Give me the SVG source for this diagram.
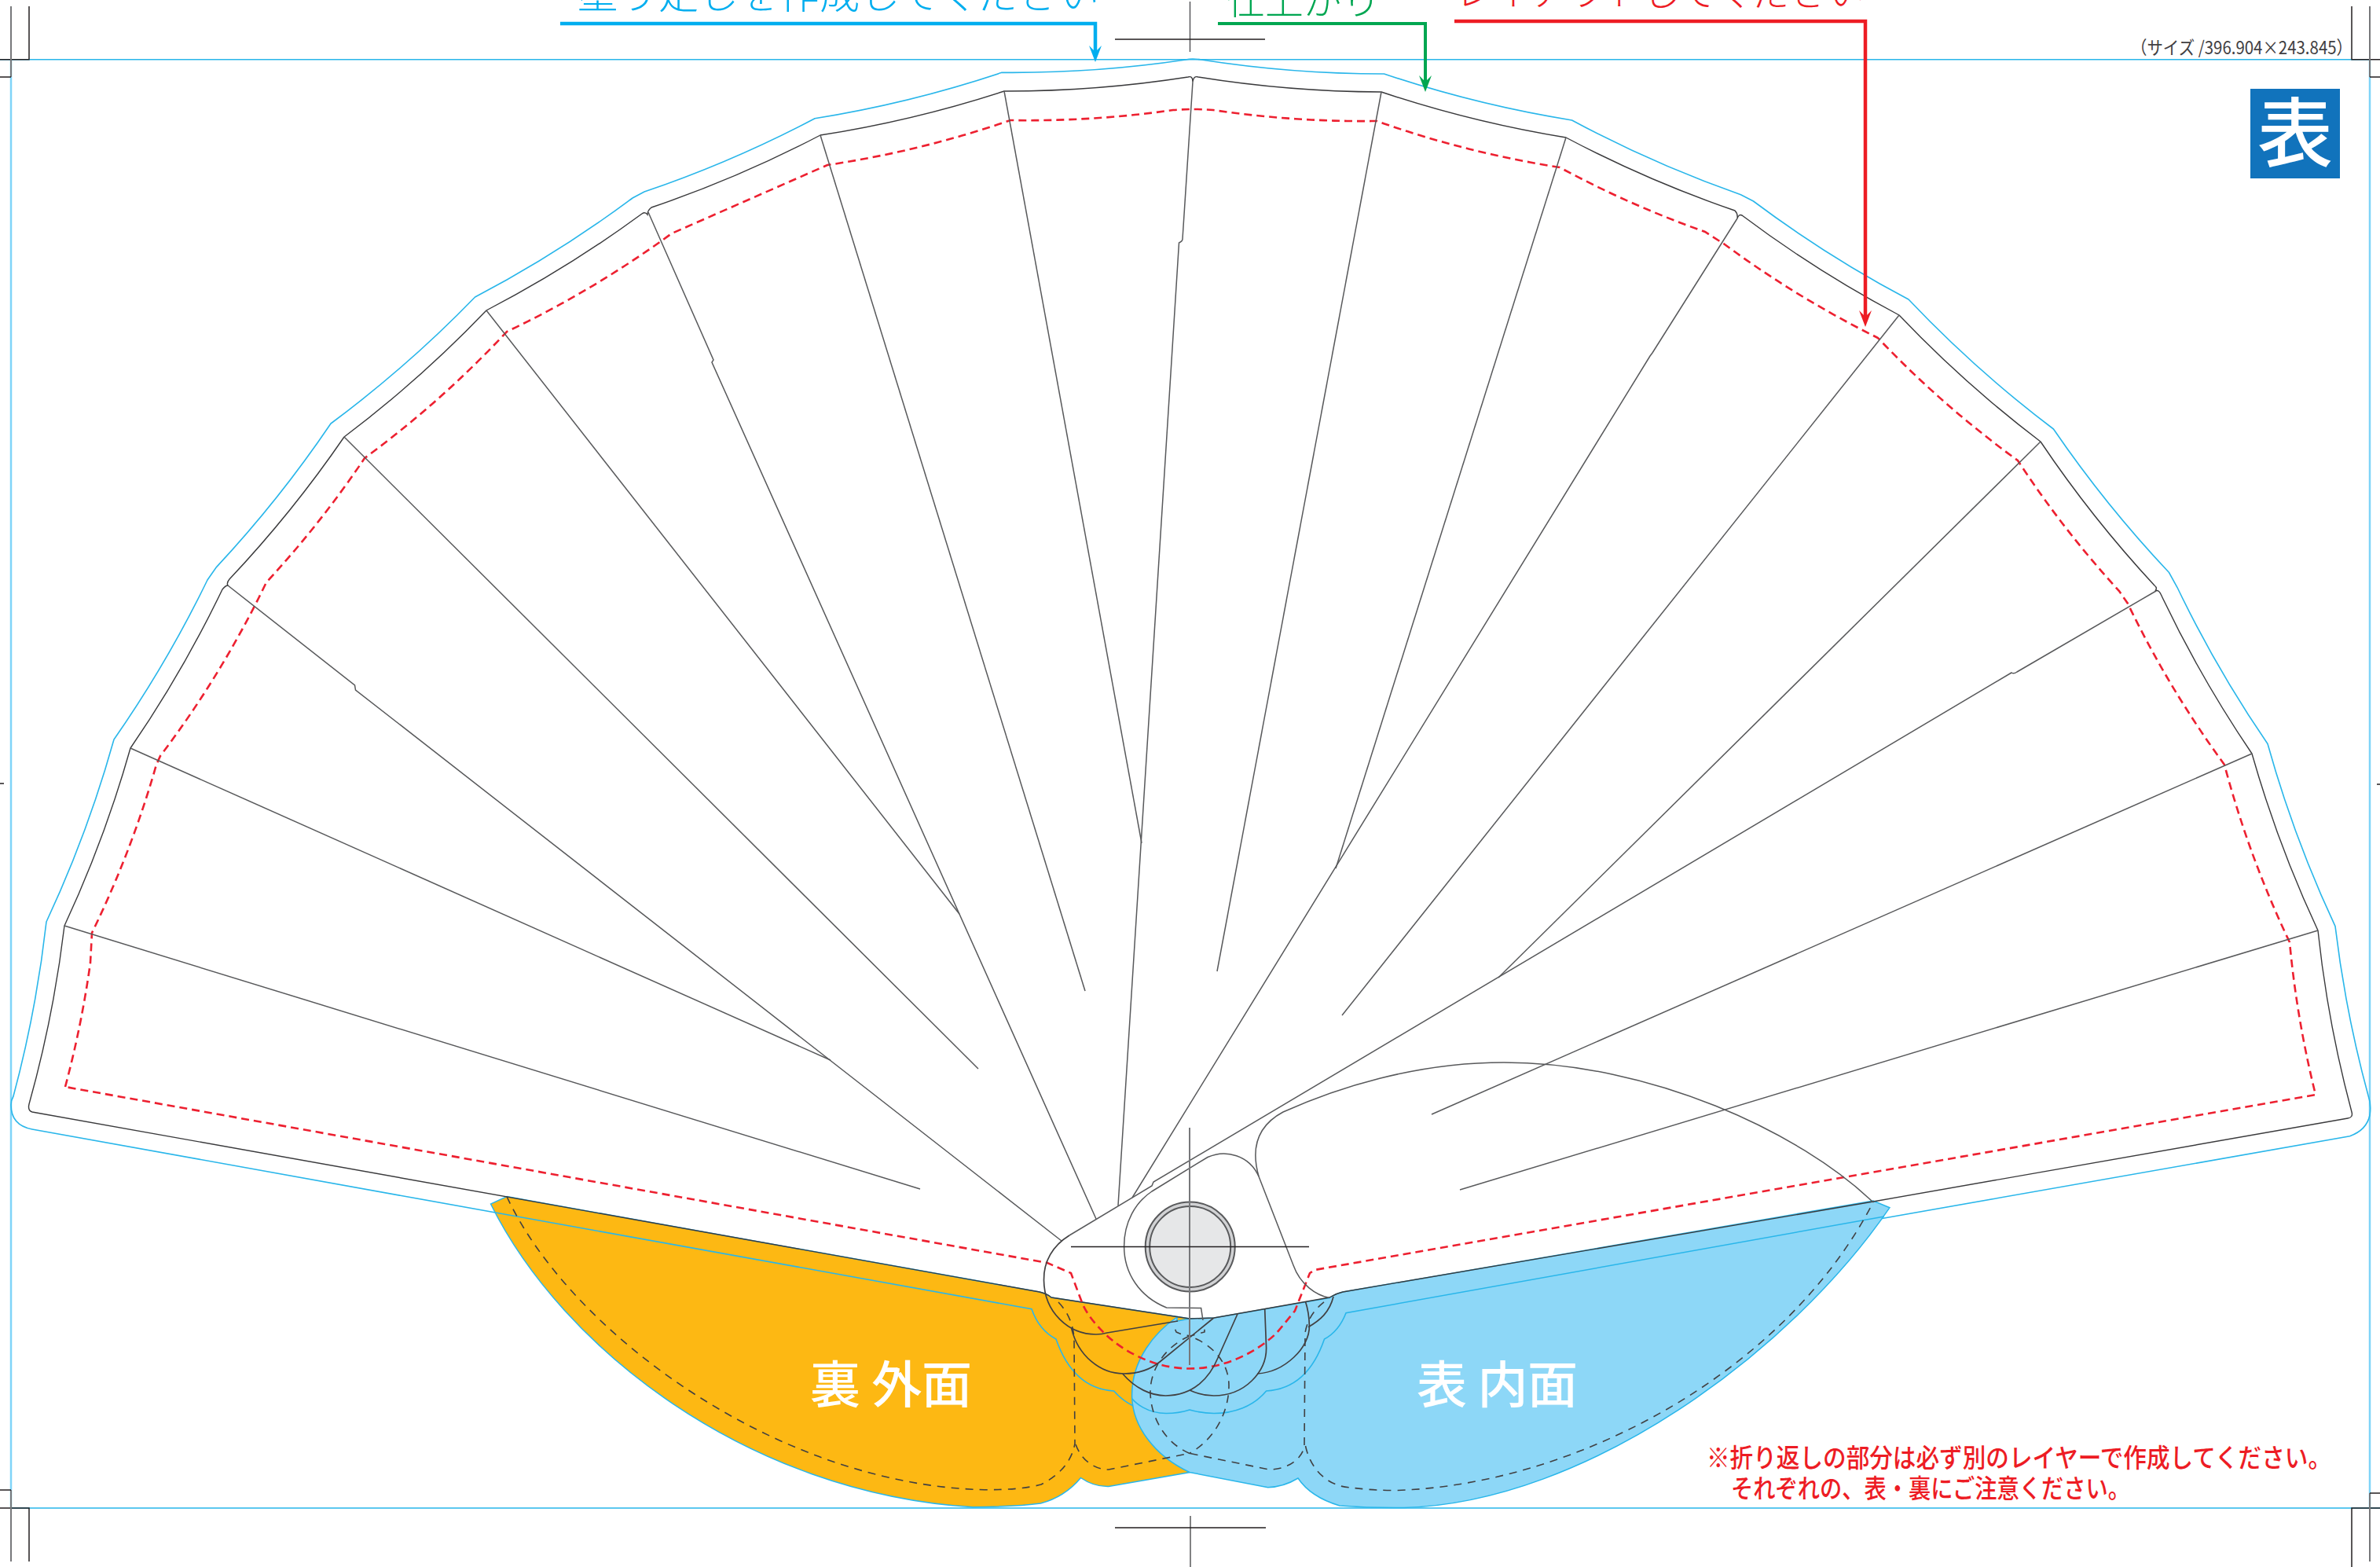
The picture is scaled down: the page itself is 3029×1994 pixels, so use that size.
<svg xmlns="http://www.w3.org/2000/svg" width="3029" height="1994" viewBox="0 0 3029 1994">
<style>
.ln{fill:none;stroke:#58595b;stroke-width:1.5}
.lb{fill:none;stroke:#414042;stroke-width:1.7}
.ol{fill:none;stroke:#3a3a3c;stroke-width:1.4}
.blk{fill:none;stroke:#231f20;stroke-width:1.5}
.gry{fill:none;stroke:#77787b;stroke-width:2}
.bl{fill:none;stroke:#29b6ea;stroke-width:1.6}
.bv{fill:none;stroke:#7fd4f8;stroke-width:2.5}
.rd{fill:none;stroke:#ed2030;stroke-width:2.6;stroke-dasharray:10 6}
.ds{fill:none;stroke:#414042;stroke-width:1.6;stroke-dasharray:10 8}
.t{font-family:"Noto Sans CJK JP","Noto Sans",sans-serif}
</style>
<rect width="3029" height="1994" fill="#fff"/>

<g id="orange-panel"><path d="M645 1522.6L624.5 1532C715 1715 950 1900 1238 1917.7Q1295 1917 1324.5 1913Q1355 1905 1375.5 1880.5Q1392 1892 1411 1891.5L1514 1873.5L1514 1678L1338 1651Q1332 1646 1323 1644Z" fill="#fdb813" stroke="#29b6ea" stroke-width="1.5"/></g>

<g id="guides">
<path class="bl" d="M0 75.7H3016M14 1919H3029"/>
<path class="bv" d="M14 76V1919M3016 76V1919"/>
</g>

<g id="bleed"><path class="bl" d="M17 1395A1500 1500 0 0 0 59 1173A1500 1500 0 0 0 145 941A1500 1500 0 0 0 264 738L275.500 721.600A1500 1500 0 0 0 421 539A1500 1500 0 0 0 604.600 378A1500 1500 0 0 0 805 252L820 244A1500 1500 0 0 0 1037 150.700A1500 1500 0 0 0 1275 92.300A1500 1500 0 0 0 1509 76Q1517 74 1529 76A1500 1500 0 0 0 1761.500 94A1500 1500 0 0 0 2000.600 153A1500 1500 0 0 0 2215.500 247.700L2231.500 256A1500 1500 0 0 0 2429 381A1500 1500 0 0 0 2613.500 546A1500 1500 0 0 0 2760.500 728.500L2771 747.500A1500 1500 0 0 0 2886 946.500A1500 1500 0 0 0 2972 1178.700A1500 1500 0 0 0 3014 1394Q3018 1405 3016 1419Q3012 1438 2990.600 1445.700L1713 1670.700Q1704 1694 1685.500 1704Q1664 1767 1611.600 1770C1595 1790 1570 1798.500 1545 1798.500Q1530 1798.500 1514 1794Q1500 1798.500 1484 1798.500C1460 1798.500 1435 1790 1417.600 1770Q1366 1767 1344 1704Q1322 1692 1313 1665.700L41 1437C25 1434 14 1425 14 1406Q14 1400 17 1395Z"/></g>

<g id="blue-panel"><path d="M2405 1536.700L2384 1528L1709 1644Q1700 1646 1692 1651.600L1545 1677L1514 1678L1498 1681L1498 1676C1470 1695 1440.600 1730 1440.600 1775C1440.600 1815 1470 1853 1514 1873.500L1613.600 1892.700Q1634 1892 1652 1881Q1668 1905 1705 1916Q1745 1919 1787 1918.500C2020 1912 2280 1720 2405 1536.700Z" fill="#8dd7f7" stroke="#29b6ea" stroke-width="1.5"/>
<path d="M2398 1548L1713 1670.700Q1704 1694 1685.500 1704Q1664 1767 1611.600 1770C1595 1790 1570 1798.500 1545 1798.500Q1530 1798.500 1514 1794Q1500 1798.500 1484 1798.500C1460 1798.500 1445 1785 1441 1780" class="bl"/></g>

<g id="trim"><path class="ol" d="M41 1415Q35 1413 37 1405A1500 1500 0 0 0 82 1178A1500 1500 0 0 0 166 952A1500 1500 0 0 0 283 750Q287 745 290 745Q288 742 292 737A1500 1500 0 0 0 438 556A1500 1500 0 0 0 619 395A1500 1500 0 0 0 817 272Q821 269 824 273Q824 268 829 264A1500 1500 0 0 0 1044 172A1500 1500 0 0 0 1278 116A1500 1500 0 0 0 1512 98Q1518 96 1518 104Q1519 96 1525 98A1500 1500 0 0 0 1758 117A1500 1500 0 0 0 1993 175A1500 1500 0 0 0 2208 268Q2212 272 2211 278Q2213 272 2217 274A1500 1500 0 0 0 2417 401A1500 1500 0 0 0 2597 562A1500 1500 0 0 0 2742 745Q2746 748 2743 752Q2747 750 2750 756A1500 1500 0 0 0 2866 959A1500 1500 0 0 0 2950 1184A1500 1500 0 0 0 2993 1415Q2995 1422 2988 1423L2384 1529L1709 1644Q1700 1646 1692 1651L1545 1677L1514 1678L1338 1651Q1332 1646 1323 1644L41 1415Z"/></g>

<g id="safe-line"><path class="rd" d="M83 1383A1300 1300 0 0 0 115 1225L117 1187A1300 1300 0 0 0 199 973L204 962A1300 1300 0 0 0 339 741A1300 1300 0 0 0 464 583A1300 1300 0 0 0 645 422A1300 1300 0 0 0 855 297L1053 210A1300 1300 0 0 0 1286 153A1300 1300 0 0 0 1493 140Q1520 138 1544 140A1300 1300 0 0 0 1752 154A1300 1300 0 0 0 1985 213A1300 1300 0 0 0 2170 295L2195 311A1300 1300 0 0 0 2390 430A1300 1300 0 0 0 2568 586A1300 1300 0 0 0 2697 752L2708 768A1300 1300 0 0 0 2831 973A1300 1300 0 0 0 2914 1199A1300 1300 0 0 0 2947 1393L1673 1616L1667 1620L1648 1668L1625 1696C1600 1720 1560 1741.500 1514 1741.500C1470 1741.500 1430 1720 1407 1698C1395 1686 1385 1675 1378 1660L1363 1620L1333 1607L83 1383Z"/></g>

<g id="ribs">
<path class="ln" d="M82 1178L1171 1513"/>
<path class="ln" d="M166 952L1057 1349"/>
<path class="ln" d="M290 745L451.500 872L452.500 878L1351 1579"/>
<path class="ln" d="M438 556L1245 1360"/>
<path class="ln" d="M619 395L1221 1163"/>
<path class="ln" d="M825 270L908 458L906 461L1395 1551"/>
<path class="ln" d="M1044 172L1381 1261"/>
<path class="ln" d="M1278 116L1453 1073"/>
<path class="ln" d="M1518 104L1505 304Q1505 307 1500.500 309L1423 1534"/>
<path class="ln" d="M1758 117L1549 1236"/>
<path class="ln" d="M1993 175L1700 1105"/>
<path class="ln" d="M2211 278L2103 449L2100 453L1441 1524"/>
<path class="ln" d="M2417 401L1708 1292"/>
<path class="ln" d="M2597 562L1907 1244"/>
<path class="ln" d="M2744 752L2567 855Q2563 858 2560 856L1468 1504L1466 1509L1361 1572"/>
<path class="ln" d="M2866 959L1822 1418"/>
<path class="ln" d="M2950 1184L1858 1514"/>
</g>

<g id="arm">
<path class="lb" d="M1361 1572C1340 1585 1328 1605 1328.500 1629C1329 1670 1360 1698 1395 1698Q1402 1698 1409 1696L1499 1681"/>
<path class="ln" d="M1531 1680L1528.600 1664.600L1484.600 1664C1450 1650 1430.600 1620 1430.600 1586C1430.600 1555 1445 1530 1466 1516L1537 1472.500C1560 1462 1590 1470 1602 1497L1646 1610C1655 1635 1675 1648 1692 1651.600"/>
<path class="ln" d="M1602 1497C1590 1455 1605 1430 1633 1415C1700 1385 1800 1352 1914 1352C2100 1352 2290 1440 2384 1530"/>
</g>

<g id="lobes">
<path class="lb" d="M1363.700 1690.600C1372 1725 1400 1748 1430 1748C1450 1748 1465 1742 1476 1733L1544.700 1677"/>
<path class="lb" d="M1428.700 1748C1445 1767 1465 1776 1483.400 1776C1520 1776 1540 1752 1550.400 1727L1575 1672"/>
<path class="lb" d="M1514 1769C1525 1774 1535 1776 1544.700 1776C1585 1776 1612 1745 1611.600 1715L1609.700 1665.700"/>
<path class="lb" d="M1600 1748C1635 1746 1667 1715 1666.400 1687Q1666 1670 1661.400 1656"/>
<path class="lb" d="M1665 1688.700C1680 1680 1692 1670 1697 1650"/>
</g>

<g id="folds">
<path class="ds" d="M645 1522.600C725 1695 990 1890 1253 1895.700Q1300 1896 1325 1889Q1362 1870 1368 1837L1367 1703Q1365 1675 1346 1656"/>
<path class="ds" d="M1369 1838C1375 1855 1390 1870 1411 1870L1514 1849.400L1615.500 1870C1640 1870 1658 1855 1660 1840L1661 1696Q1665 1672 1686 1656"/>
<path class="ds" d="M1661.500 1840C1668 1870 1690 1892 1720 1893Q1745 1896.500 1776.500 1896.500C2000 1890 2270 1750 2384 1530"/>
<path class="ds" d="M1514 1849.400C1480 1835 1464 1800 1464 1771C1464 1745 1480 1715 1514 1700C1545 1712 1564 1735 1564 1763C1564 1795 1548 1830 1514 1849.400Z"/>
<path class="ds" d="M1495.700 1691.700L1497 1695Q1505 1699 1515 1700L1533 1695L1533 1691.700"/>
</g>

<g id="hub">
<circle cx="1514.700" cy="1586.500" r="57" fill="#d1d2d4" stroke="#58595b" stroke-width="2"/>
<circle cx="1514.700" cy="1586.500" r="51.500" fill="#e6e7e8" stroke="#58595b" stroke-width="2"/>
</g>

<g id="registration">
<path class="gry" d="M1514 1435V1737"/>
<path class="blk" d="M1363 1586.500H1666"/>
<path class="ln" d="M1514.500 2V66M1515 1929V1994"/>
<path class="blk" d="M1419 50H1610M1419 1944H1611"/>
<path class="blk" d="M0 75.700H37V8M0 1919H37V1987M2993 8V75.700H3029M2993 1994V1919H3029"/>
<path class="gry" d="M14 8V98M14 1896V1987M3016 8V98M3016 1900V1987"/>
<path class="blk" d="M0 98H14M0 1896H14M3016 98H3029M3016 1900H3029M0 997H5M3025 998H3029"/>
</g>

<g id="connectors">
<path d="M713 30H1394V66" fill="none" stroke="#00aeef" stroke-width="4.500"/>
<path d="M1394 79L1386 58L1394 66L1402 58Z" fill="#00aeef"/>
<path d="M1550 30H1814V104" fill="none" stroke="#00a651" stroke-width="4"/>
<path d="M1814 117L1806 96L1814 104L1822 96Z" fill="#00a651"/>
<path d="M1851 27H2374V403" fill="none" stroke="#ed1c24" stroke-width="4.500"/>
<path d="M2374 416L2366 395L2374 403L2382 395Z" fill="#ed1c24"/>
</g>

<g id="labels">
<text class="t" x="735" y="11" font-size="50.500" font-weight="300" fill="#00aeef" textLength="664" lengthAdjust="spacingAndGlyphs">塗り足しを作成してください</text>
<text class="t" x="1561" y="18" font-size="48" font-weight="300" fill="#00a651" textLength="196" lengthAdjust="spacingAndGlyphs">仕上がり</text>
<text class="t" x="1852" y="7" font-size="47" font-weight="300" fill="#ed1c24" textLength="522" lengthAdjust="spacingAndGlyphs">レイアウトしてください</text>
<text class="t" x="2712" y="69" font-size="23" fill="#414042" textLength="282" lengthAdjust="spacingAndGlyphs">（サイズ /396.904×243.845）</text>
<text class="t" x="1031" y="1785" font-size="64" font-weight="500" fill="#fff" textLength="206" lengthAdjust="spacing" xml:space="preserve">裏 外面</text>
<text class="t" x="1803" y="1785" font-size="64" font-weight="500" fill="#fff" textLength="205" lengthAdjust="spacing" xml:space="preserve">表 内面</text>
<text class="t" x="2172" y="1867" font-size="33" font-weight="500" fill="#ed1c24" textLength="795" lengthAdjust="spacingAndGlyphs">※折り返しの部分は必ず別のレイヤーで作成してください。</text>
<text class="t" x="2203" y="1906" font-size="33" font-weight="500" fill="#ed1c24" textLength="508" lengthAdjust="spacingAndGlyphs">それぞれの、表・裏にご注意ください。</text>
</g>

<g id="side-badge">
<rect x="2864" y="113" width="114" height="114" fill="#1173bc"/>
<text class="t" x="2921" y="204" font-size="96" font-weight="500" fill="#fff" text-anchor="middle">表</text>
</g>
</svg>
